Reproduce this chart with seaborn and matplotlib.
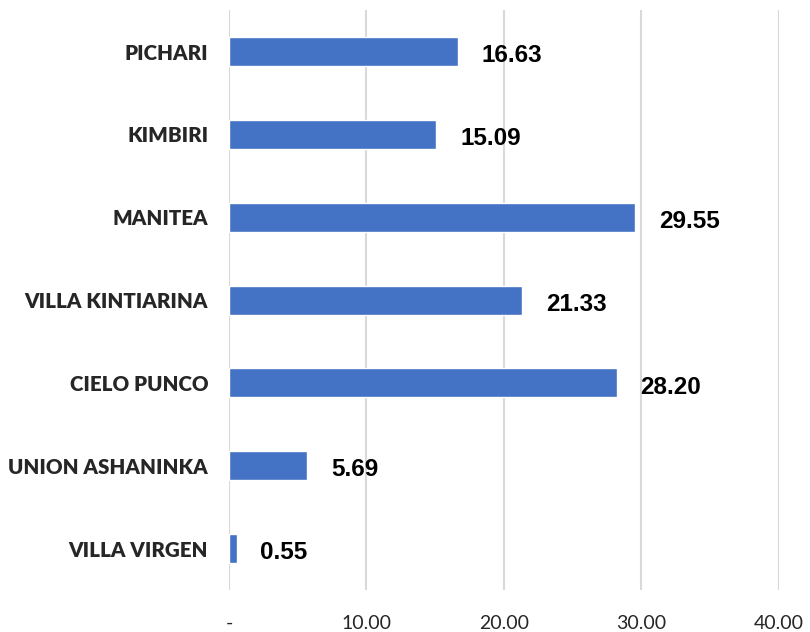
import matplotlib
matplotlib.use("Agg")
import matplotlib.pyplot as plt
import seaborn as sns
import pandas as pd

# Datos del gráfico (de arriba hacia abajo)
categorias = ["PICHARI", "KIMBIRI", "MANITEA", "VILLA KINTIARINA",
              "CIELO PUNCO", "UNION ASHANINKA", "VILLA VIRGEN"]
valores = [16.63, 15.09, 29.55, 21.33, 28.20, 5.69, 0.55]
ticks_x = [0, 10, 20, 30, 40]
etiquetas_x = ["-", "10.00", "20.00", "30.00", "40.00"]

df = pd.DataFrame({"categoria": categorias, "valor": valores})

sns.set_style("white")
fig = plt.figure(figsize=(8.1, 6.32), dpi=100)
ax = fig.add_axes([0.2827, 0.0665, 0.679, 0.9175])

sns.barplot(data=df, x="valor", y="categoria", color="#4472C4",
            width=0.35, saturation=1, ax=ax)

ax.set_xlim(0, 40)
ax.set_ylim(6.5, -0.5)
ax.set_xticks(ticks_x)
ax.set_xticklabels(etiquetas_x, fontfamily="Lato", fontsize=14)
ax.tick_params(axis="x", length=0, pad=18)
ax.tick_params(axis="y", length=0, pad=15)
for lbl in ax.get_yticklabels():
    lbl.set_fontfamily("Lato")
    lbl.set_fontweight("heavy")
    lbl.set_fontsize(14.8)

ax.grid(axis="x", color="#D9D9D9", linewidth=1.5)
ax.set_axisbelow(True)
for s in ax.spines.values():
    s.set_visible(False)
ax.set_xlabel("")
ax.set_ylabel("")

# Etiquetas de valores
for i, v in enumerate(valores):
    ax.annotate(f"{v:.2f}", xy=(v, i), xytext=(17, -3), textcoords="offset points",
                ha="left", va="center", fontsize=17.5, fontweight="bold",
                fontfamily="Liberation Sans", color="black")

fig.savefig("out.png", dpi=100)
